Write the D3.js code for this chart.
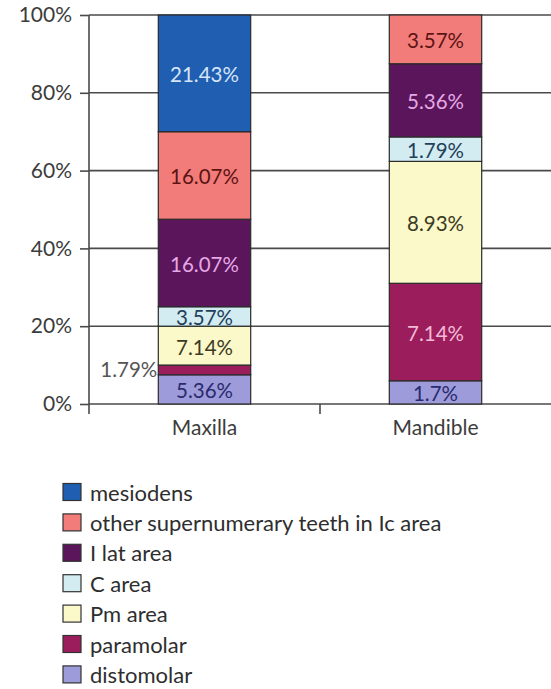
<!DOCTYPE html>
<html>
<head>
<meta charset="utf-8">
<script src="https://cdn.jsdelivr.net/npm/d3@7"></script>
<style>
  html, body { margin: 0; padding: 0; background: #fff; }
  svg { display: block; font-family: Lato, "Open Sans", sans-serif; }
</style>
</head>
<body>
<svg id="chart" width="551" height="689"></svg>
<script>
// Supernumerary teeth by location, per jaw (percent of all cases)
const categories = ["Maxilla", "Mandible"];
const distomolar = [5.36, 1.7];
const paramolar  = [1.79, 7.14];
const pmArea     = [7.14, 8.93];
const cArea      = [3.57, 1.79];
const iLatArea   = [16.07, 5.36];
const otherIc    = [16.07, 3.57];
const mesiodens  = [21.43, 0];
const yTicks = [0, 0.2, 0.4, 0.6, 0.8, 1];

// Series listed bottom-to-top of the stack
const series = [
  { key: "distomolar", name: "distomolar", values: distomolar, fill: "#9d9bd9", text: "#2a2a6e" },
  { key: "paramolar", name: "paramolar", values: paramolar, fill: "#9c1d5b", text: "#f3bad8" },
  { key: "pm", name: "Pm area", values: pmArea, fill: "#fbf8ca", text: "#3b3a22" },
  { key: "c", name: "C area", values: cArea, fill: "#d2ecf1", text: "#23405a" },
  { key: "ilat", name: "I lat area", values: iLatArea, fill: "#5a155b", text: "#e6a8e6" },
  { key: "other", name: "other supernumerary teeth in Ic area", values: otherIc, fill: "#f27c79", text: "#5c1414" },
  { key: "mesiodens", name: "mesiodens", values: mesiodens, fill: "#1f5eb1", text: "#d6e5f8" }
];

const rows = categories.map((c, i) => {
  const r = { category: c };
  series.forEach(s => { r[s.key] = s.values[i]; });
  return r;
});

const stacked = d3.stack()
  .keys(series.map(s => s.key))
  .offset(d3.stackOffsetExpand)(rows);

const svg = d3.select("#chart");
const plotLeft = 89, plotRight = 551, plotTop = 15, plotBottom = 404;
const axisFont = "21px", valueFont = "20.5px", legendFont = "22px";

const x = d3.scaleBand().domain(categories).range([plotLeft, plotRight]).padding(0);
const y = d3.scaleLinear().domain([0, 1]).range([plotBottom, plotTop]);
const barW = x.bandwidth() * 0.4;

// Gridlines
svg.append("g")
  .selectAll("line")
  .data(yTicks)
  .join("line")
  .attr("x1", plotLeft).attr("x2", plotRight)
  .attr("y1", d => y(d)).attr("y2", d => y(d))
  .attr("stroke", "#4a4a4a").attr("stroke-width", 1.6);

// Y axis
const yAxis = svg.append("g")
  .attr("transform", `translate(${plotLeft},0)`)
  .call(d3.axisLeft(y).tickValues(yTicks).tickFormat(d3.format(".0%")).tickSize(9).tickPadding(8));
yAxis.select(".domain").remove();
yAxis.selectAll(".tick line").attr("stroke", "#4a4a4a").attr("stroke-width", 1.6);
yAxis.selectAll(".tick text").attr("fill", "#3c3c3c").style("font-size", axisFont).style("font-family", "Lato, sans-serif");
svg.append("line")
  .attr("x1", plotLeft).attr("x2", plotLeft)
  .attr("y1", y(1)).attr("y2", plotBottom + 10)
  .attr("stroke", "#4a4a4a").attr("stroke-width", 1.6);

// Category separator ticks below the baseline
svg.append("g")
  .selectAll("line")
  .data(categories.slice(1))
  .join("line")
  .attr("x1", d => x(d)).attr("x2", d => x(d))
  .attr("y1", plotBottom).attr("y2", plotBottom + 10)
  .attr("stroke", "#4a4a4a").attr("stroke-width", 1.6);

// X axis labels
const xAxis = svg.append("g")
  .attr("transform", `translate(0,${plotBottom})`)
  .call(d3.axisBottom(x).tickSize(0).tickPadding(16));
xAxis.select(".domain").remove();
xAxis.selectAll(".tick text").attr("fill", "#3c3c3c").style("font-size", axisFont).style("font-family", "Lato, sans-serif");

// Stacked bars
const layers = svg.append("g")
  .selectAll("g")
  .data(stacked)
  .join("g");

layers.each(function (layer, li) {
  const s = series[li];
  const g = d3.select(this);
  const segs = layer.map((d, i) => ({ d, cat: categories[i], v: s.values[i] })).filter(o => o.v > 0);
  g.selectAll("rect")
    .data(segs)
    .join("rect")
    .attr("x", o => x(o.cat) + (x.bandwidth() - barW) / 2)
    .attr("width", barW)
    .attr("y", o => y(o.d[1]))
    .attr("height", o => y(o.d[0]) - y(o.d[1]))
    .attr("fill", s.fill)
    .attr("stroke", "#2a2a2a")
    .attr("stroke-width", 1.2);
});

// Value labels
layers.each(function (layer, li) {
  const s = series[li];
  const g = d3.select(this);
  const segs = layer.map((d, i) => ({ d, cat: categories[i], v: s.values[i] })).filter(o => o.v > 0);
  g.selectAll("text")
    .data(segs)
    .join("text")
    .each(function (o) {
      const h = y(o.d[0]) - y(o.d[1]);
      const cx = x(o.cat) + x.bandwidth() / 2;
      const cy = (y(o.d[0]) + y(o.d[1])) / 2;
      const t = d3.select(this)
        .text(o.v + "%")
        .style("font-size", valueFont)
        .attr("dominant-baseline", "central");
      if (h < 14) {
        // too thin to hold its label: place it just left of the bar
        t.attr("x", x(o.cat) + (x.bandwidth() - barW) / 2 - 1)
          .attr("y", cy - 1)
          .attr("text-anchor", "end")
          .attr("fill", "#555");
      } else {
        t.attr("x", cx).attr("y", cy + 1)
          .attr("text-anchor", "middle")
          .attr("fill", s.text);
      }
    });
});

// Legend, top-to-bottom order of the stack
const legendItems = series.slice().reverse();
const legend = svg.append("g").attr("transform", "translate(63,492)");
const legendRows = legend.selectAll("g")
  .data(legendItems)
  .join("g")
  .attr("transform", (d, i) => `translate(0,${i * 30.4})`);
legendRows.append("rect")
  .attr("x", 0).attr("y", -8.5)
  .attr("width", 18).attr("height", 17)
  .attr("fill", d => d.fill)
  .attr("stroke", "#333").attr("stroke-width", 1.2);
legendRows.append("text")
  .attr("x", 27).attr("y", 0)
  .attr("dominant-baseline", "central")
  .attr("fill", "#2e2e2e")
  .style("font-size", legendFont)
  .text(d => d.name);
</script>
</body>
</html>
